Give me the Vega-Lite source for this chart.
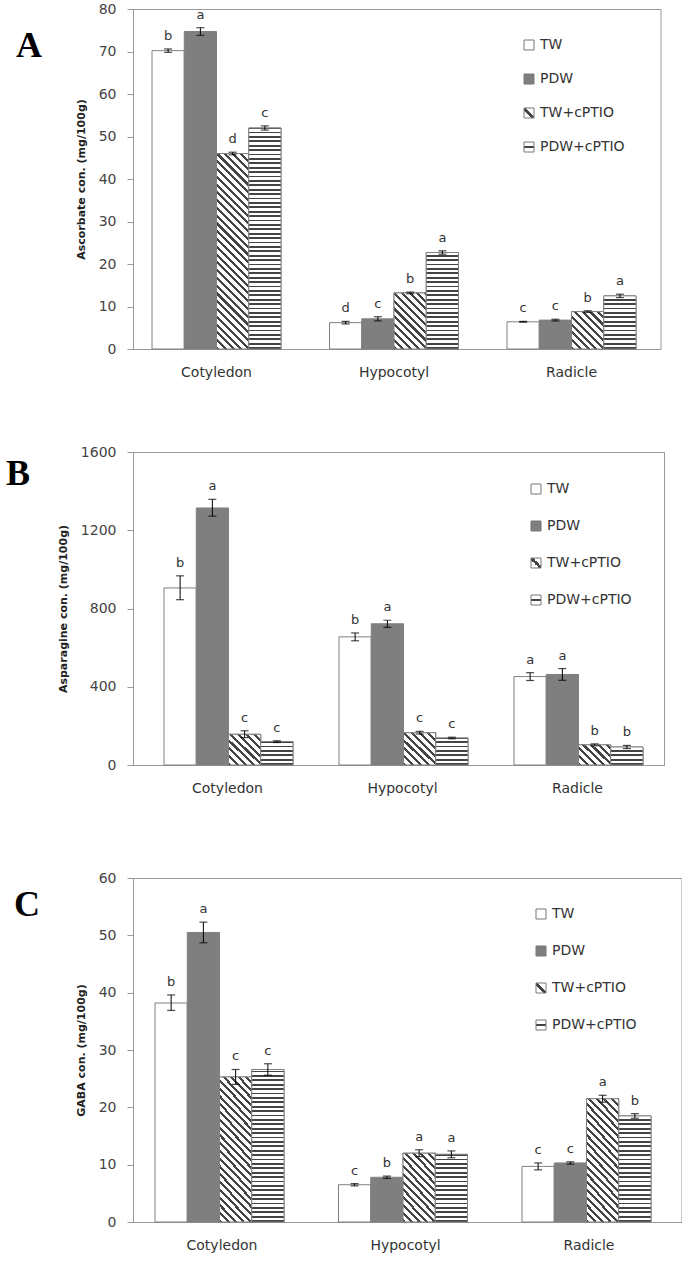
{
"$schema": "https://vega.github.io/schema/vega-lite/v6.json",
"padding": {"left": 5, "top": 1, "right": 0, "bottom": 0},
"spacing": 64,
"params": [
{"name": "gDiag", "value": {"gradient": "linear", "x1": 0, "y1": 1, "x2": 1, "y2": 0, "stops": [{"offset":0,"color":"#fff"},{"offset":0.4,"color":"#fff"},{"offset":0.4,"color":"#444"},{"offset":0.6,"color":"#444"},{"offset":0.6,"color":"#fff"},{"offset":1,"color":"#fff"}]}},
{"name": "gHorz", "value": {"gradient": "linear", "x1": 0, "y1": 0, "x2": 0.000001, "y2": 1, "stops": [{"offset":0,"color":"#fff"},{"offset":0.4,"color":"#fff"},{"offset":0.4,"color":"#444"},{"offset":0.6,"color":"#444"},{"offset":0.6,"color":"#fff"},{"offset":1,"color":"#fff"}]}},
{"name": "stripeStops", "value": [
{"offset":0,"color":"#444"},{"offset":0.0071,"color":"#444"},{"offset":0.0071,"color":"#fff"},{"offset":0.0179,"color":"#fff"},
{"offset":0.0179,"color":"#444"},{"offset":0.025,"color":"#444"},{"offset":0.025,"color":"#fff"},{"offset":0.0357,"color":"#fff"},
{"offset":0.0357,"color":"#444"},{"offset":0.0429,"color":"#444"},{"offset":0.0429,"color":"#fff"},{"offset":0.0536,"color":"#fff"},
{"offset":0.0536,"color":"#444"},{"offset":0.0607,"color":"#444"},{"offset":0.0607,"color":"#fff"},{"offset":0.0714,"color":"#fff"},
{"offset":0.0714,"color":"#444"},{"offset":0.0786,"color":"#444"},{"offset":0.0786,"color":"#fff"},{"offset":0.0893,"color":"#fff"},
{"offset":0.0893,"color":"#444"},{"offset":0.0964,"color":"#444"},{"offset":0.0964,"color":"#fff"},{"offset":0.1071,"color":"#fff"},
{"offset":0.1071,"color":"#444"},{"offset":0.1143,"color":"#444"},{"offset":0.1143,"color":"#fff"},{"offset":0.125,"color":"#fff"},
{"offset":0.125,"color":"#444"},{"offset":0.1321,"color":"#444"},{"offset":0.1321,"color":"#fff"},{"offset":0.1429,"color":"#fff"},
{"offset":0.1429,"color":"#444"},{"offset":0.15,"color":"#444"},{"offset":0.15,"color":"#fff"},{"offset":0.1607,"color":"#fff"},
{"offset":0.1607,"color":"#444"},{"offset":0.1679,"color":"#444"},{"offset":0.1679,"color":"#fff"},{"offset":0.1786,"color":"#fff"},
{"offset":0.1786,"color":"#444"},{"offset":0.1857,"color":"#444"},{"offset":0.1857,"color":"#fff"},{"offset":0.1964,"color":"#fff"},
{"offset":0.1964,"color":"#444"},{"offset":0.2036,"color":"#444"},{"offset":0.2036,"color":"#fff"},{"offset":0.2143,"color":"#fff"},
{"offset":0.2143,"color":"#444"},{"offset":0.2214,"color":"#444"},{"offset":0.2214,"color":"#fff"},{"offset":0.2321,"color":"#fff"},
{"offset":0.2321,"color":"#444"},{"offset":0.2393,"color":"#444"},{"offset":0.2393,"color":"#fff"},{"offset":0.25,"color":"#fff"},
{"offset":0.25,"color":"#444"},{"offset":0.2571,"color":"#444"},{"offset":0.2571,"color":"#fff"},{"offset":0.2679,"color":"#fff"},
{"offset":0.2679,"color":"#444"},{"offset":0.275,"color":"#444"},{"offset":0.275,"color":"#fff"},{"offset":0.2857,"color":"#fff"},
{"offset":0.2857,"color":"#444"},{"offset":0.2929,"color":"#444"},{"offset":0.2929,"color":"#fff"},{"offset":0.3036,"color":"#fff"},
{"offset":0.3036,"color":"#444"},{"offset":0.3107,"color":"#444"},{"offset":0.3107,"color":"#fff"},{"offset":0.3214,"color":"#fff"},
{"offset":0.3214,"color":"#444"},{"offset":0.3286,"color":"#444"},{"offset":0.3286,"color":"#fff"},{"offset":0.3393,"color":"#fff"},
{"offset":0.3393,"color":"#444"},{"offset":0.3464,"color":"#444"},{"offset":0.3464,"color":"#fff"},{"offset":0.3571,"color":"#fff"},
{"offset":0.3571,"color":"#444"},{"offset":0.3643,"color":"#444"},{"offset":0.3643,"color":"#fff"},{"offset":0.375,"color":"#fff"},
{"offset":0.375,"color":"#444"},{"offset":0.3821,"color":"#444"},{"offset":0.3821,"color":"#fff"},{"offset":0.3929,"color":"#fff"},
{"offset":0.3929,"color":"#444"},{"offset":0.4,"color":"#444"},{"offset":0.4,"color":"#fff"},{"offset":0.4107,"color":"#fff"},
{"offset":0.4107,"color":"#444"},{"offset":0.4179,"color":"#444"},{"offset":0.4179,"color":"#fff"},{"offset":0.4286,"color":"#fff"},
{"offset":0.4286,"color":"#444"},{"offset":0.4357,"color":"#444"},{"offset":0.4357,"color":"#fff"},{"offset":0.4464,"color":"#fff"},
{"offset":0.4464,"color":"#444"},{"offset":0.4536,"color":"#444"},{"offset":0.4536,"color":"#fff"},{"offset":0.4643,"color":"#fff"},
{"offset":0.4643,"color":"#444"},{"offset":0.4714,"color":"#444"},{"offset":0.4714,"color":"#fff"},{"offset":0.4821,"color":"#fff"},
{"offset":0.4821,"color":"#444"},{"offset":0.4893,"color":"#444"},{"offset":0.4893,"color":"#fff"},{"offset":0.5,"color":"#fff"},
{"offset":0.5,"color":"#444"},{"offset":0.5071,"color":"#444"},{"offset":0.5071,"color":"#fff"},{"offset":0.5179,"color":"#fff"},
{"offset":0.5179,"color":"#444"},{"offset":0.525,"color":"#444"},{"offset":0.525,"color":"#fff"},{"offset":0.5357,"color":"#fff"},
{"offset":0.5357,"color":"#444"},{"offset":0.5429,"color":"#444"},{"offset":0.5429,"color":"#fff"},{"offset":0.5536,"color":"#fff"},
{"offset":0.5536,"color":"#444"},{"offset":0.5607,"color":"#444"},{"offset":0.5607,"color":"#fff"},{"offset":0.5714,"color":"#fff"},
{"offset":0.5714,"color":"#444"},{"offset":0.5786,"color":"#444"},{"offset":0.5786,"color":"#fff"},{"offset":0.5893,"color":"#fff"},
{"offset":0.5893,"color":"#444"},{"offset":0.5964,"color":"#444"},{"offset":0.5964,"color":"#fff"},{"offset":0.6071,"color":"#fff"},
{"offset":0.6071,"color":"#444"},{"offset":0.6143,"color":"#444"},{"offset":0.6143,"color":"#fff"},{"offset":0.625,"color":"#fff"},
{"offset":0.625,"color":"#444"},{"offset":0.6321,"color":"#444"},{"offset":0.6321,"color":"#fff"},{"offset":0.6429,"color":"#fff"},
{"offset":0.6429,"color":"#444"},{"offset":0.65,"color":"#444"},{"offset":0.65,"color":"#fff"},{"offset":0.6607,"color":"#fff"},
{"offset":0.6607,"color":"#444"},{"offset":0.6679,"color":"#444"},{"offset":0.6679,"color":"#fff"},{"offset":0.6786,"color":"#fff"},
{"offset":0.6786,"color":"#444"},{"offset":0.6857,"color":"#444"},{"offset":0.6857,"color":"#fff"},{"offset":0.6964,"color":"#fff"},
{"offset":0.6964,"color":"#444"},{"offset":0.7036,"color":"#444"},{"offset":0.7036,"color":"#fff"},{"offset":0.7143,"color":"#fff"},
{"offset":0.7143,"color":"#444"},{"offset":0.7214,"color":"#444"},{"offset":0.7214,"color":"#fff"},{"offset":0.7321,"color":"#fff"},
{"offset":0.7321,"color":"#444"},{"offset":0.7393,"color":"#444"},{"offset":0.7393,"color":"#fff"},{"offset":0.75,"color":"#fff"},
{"offset":0.75,"color":"#444"},{"offset":0.7571,"color":"#444"},{"offset":0.7571,"color":"#fff"},{"offset":0.7679,"color":"#fff"},
{"offset":0.7679,"color":"#444"},{"offset":0.775,"color":"#444"},{"offset":0.775,"color":"#fff"},{"offset":0.7857,"color":"#fff"},
{"offset":0.7857,"color":"#444"},{"offset":0.7929,"color":"#444"},{"offset":0.7929,"color":"#fff"},{"offset":0.8036,"color":"#fff"},
{"offset":0.8036,"color":"#444"},{"offset":0.8107,"color":"#444"},{"offset":0.8107,"color":"#fff"},{"offset":0.8214,"color":"#fff"},
{"offset":0.8214,"color":"#444"},{"offset":0.8286,"color":"#444"},{"offset":0.8286,"color":"#fff"},{"offset":0.8393,"color":"#fff"},
{"offset":0.8393,"color":"#444"},{"offset":0.8464,"color":"#444"},{"offset":0.8464,"color":"#fff"},{"offset":0.8571,"color":"#fff"},
{"offset":0.8571,"color":"#444"},{"offset":0.8643,"color":"#444"},{"offset":0.8643,"color":"#fff"},{"offset":0.875,"color":"#fff"},
{"offset":0.875,"color":"#444"},{"offset":0.8821,"color":"#444"},{"offset":0.8821,"color":"#fff"},{"offset":0.8929,"color":"#fff"},
{"offset":0.8929,"color":"#444"},{"offset":0.9,"color":"#444"},{"offset":0.9,"color":"#fff"},{"offset":0.9107,"color":"#fff"},
{"offset":0.9107,"color":"#444"},{"offset":0.9179,"color":"#444"},{"offset":0.9179,"color":"#fff"},{"offset":0.9286,"color":"#fff"},
{"offset":0.9286,"color":"#444"},{"offset":0.9357,"color":"#444"},{"offset":0.9357,"color":"#fff"},{"offset":0.9464,"color":"#fff"},
{"offset":0.9464,"color":"#444"},{"offset":0.9536,"color":"#444"},{"offset":0.9536,"color":"#fff"},{"offset":0.9643,"color":"#fff"},
{"offset":0.9643,"color":"#444"},{"offset":0.9714,"color":"#444"},{"offset":0.9714,"color":"#fff"},{"offset":0.9821,"color":"#fff"},
{"offset":0.9821,"color":"#444"},{"offset":0.9893,"color":"#444"},{"offset":0.9893,"color":"#fff"},{"offset":1,"color":"#fff"}
]}],
"config": {
  "font": "DejaVu Sans",
  "view": {"stroke": "#999", "strokeWidth": 1},
  "axisX": {"domainColor": "#999", "ticks": false, "labelFontSize": 14, "labelColor": "#333", "labelPadding": 16, "labelAngle": 0},
  "axisY": {"domainColor": "#999", "tickColor": "#999", "tickSize": 6, "labelFontSize": 14, "labelColor": "#444", "labelPadding": 11, "grid": false, "titleFontSize": 11, "titleFontWeight": "bold", "titleColor": "#222", "titlePadding": 12, "format": "d"},
  "legend": {"orient": "none", "labelFontSize": 14, "labelColor": "#333", "symbolType": "square", "symbolSize": 100, "symbolStrokeColor": "#777", "symbolStrokeWidth": 1, "rowPadding": 20, "labelOffset": 4, "padding": 0}
},
"datasets": {"d": [
{"panel":"A","organ":"Cotyledon","trt":"TW","v":70.2,"lo":69.8,"hi":70.6,"sig":"b"},
{"panel":"A","organ":"Cotyledon","trt":"PDW","v":74.7,"lo":73.8,"hi":75.6,"sig":"a"},
{"panel":"A","organ":"Cotyledon","trt":"TW+cPTIO","v":46.0,"lo":45.7,"hi":46.3,"sig":"d"},
{"panel":"A","organ":"Cotyledon","trt":"PDW+cPTIO","v":52.0,"lo":51.5,"hi":52.5,"sig":"c"},
{"panel":"A","organ":"Hypocotyl","trt":"TW","v":6.2,"lo":5.9,"hi":6.5,"sig":"d"},
{"panel":"A","organ":"Hypocotyl","trt":"PDW","v":7.1,"lo":6.6,"hi":7.6,"sig":"c"},
{"panel":"A","organ":"Hypocotyl","trt":"TW+cPTIO","v":13.2,"lo":13.0,"hi":13.4,"sig":"b"},
{"panel":"A","organ":"Hypocotyl","trt":"PDW+cPTIO","v":22.7,"lo":22.3,"hi":23.1,"sig":"a"},
{"panel":"A","organ":"Radicle","trt":"TW","v":6.4,"lo":6.3,"hi":6.5,"sig":"c"},
{"panel":"A","organ":"Radicle","trt":"PDW","v":6.8,"lo":6.6,"hi":7.0,"sig":"c"},
{"panel":"A","organ":"Radicle","trt":"TW+cPTIO","v":8.8,"lo":8.6,"hi":9.0,"sig":"b"},
{"panel":"A","organ":"Radicle","trt":"PDW+cPTIO","v":12.5,"lo":12.1,"hi":12.9,"sig":"a"},
{"panel":"B","organ":"Cotyledon","trt":"TW","v":905,"lo":845,"hi":967,"sig":"b"},
{"panel":"B","organ":"Cotyledon","trt":"PDW","v":1314,"lo":1272,"hi":1358,"sig":"a"},
{"panel":"B","organ":"Cotyledon","trt":"TW+cPTIO","v":157,"lo":140,"hi":175,"sig":"c"},
{"panel":"B","organ":"Cotyledon","trt":"PDW+cPTIO","v":120,"lo":115,"hi":124,"sig":"c"},
{"panel":"B","organ":"Hypocotyl","trt":"TW","v":655,"lo":635,"hi":675,"sig":"b"},
{"panel":"B","organ":"Hypocotyl","trt":"PDW","v":722,"lo":704,"hi":740,"sig":"a"},
{"panel":"B","organ":"Hypocotyl","trt":"TW+cPTIO","v":165,"lo":158,"hi":172,"sig":"c"},
{"panel":"B","organ":"Hypocotyl","trt":"PDW+cPTIO","v":138,"lo":134,"hi":142,"sig":"c"},
{"panel":"B","organ":"Radicle","trt":"TW","v":452,"lo":432,"hi":472,"sig":"a"},
{"panel":"B","organ":"Radicle","trt":"PDW","v":463,"lo":433,"hi":493,"sig":"a"},
{"panel":"B","organ":"Radicle","trt":"TW+cPTIO","v":103,"lo":98,"hi":108,"sig":"b"},
{"panel":"B","organ":"Radicle","trt":"PDW+cPTIO","v":92,"lo":84,"hi":100,"sig":"b"},
{"panel":"C","organ":"Cotyledon","trt":"TW","v":38.2,"lo":36.9,"hi":39.6,"sig":"b"},
{"panel":"C","organ":"Cotyledon","trt":"PDW","v":50.5,"lo":48.7,"hi":52.3,"sig":"a"},
{"panel":"C","organ":"Cotyledon","trt":"TW+cPTIO","v":25.3,"lo":24.0,"hi":26.6,"sig":"c"},
{"panel":"C","organ":"Cotyledon","trt":"PDW+cPTIO","v":26.6,"lo":25.6,"hi":27.6,"sig":"c"},
{"panel":"C","organ":"Hypocotyl","trt":"TW","v":6.5,"lo":6.3,"hi":6.7,"sig":"c"},
{"panel":"C","organ":"Hypocotyl","trt":"PDW","v":7.8,"lo":7.6,"hi":8.0,"sig":"b"},
{"panel":"C","organ":"Hypocotyl","trt":"TW+cPTIO","v":12.0,"lo":11.4,"hi":12.6,"sig":"a"},
{"panel":"C","organ":"Hypocotyl","trt":"PDW+cPTIO","v":11.8,"lo":11.2,"hi":12.4,"sig":"a"},
{"panel":"C","organ":"Radicle","trt":"TW","v":9.7,"lo":9.1,"hi":10.3,"sig":"c"},
{"panel":"C","organ":"Radicle","trt":"PDW","v":10.3,"lo":10.1,"hi":10.5,"sig":"c"},
{"panel":"C","organ":"Radicle","trt":"TW+cPTIO","v":21.5,"lo":20.9,"hi":22.1,"sig":"a"},
{"panel":"C","organ":"Radicle","trt":"PDW+cPTIO","v":18.5,"lo":18.1,"hi":18.9,"sig":"b"}
]},
"vconcat": [
{
 "width": 527.5, "height": 340,
 "title": {"text": "A", "orient": "top", "anchor": "start", "frame": "group", "align": "left", "baseline": "top", "font": "Liberation Serif", "fontSize": 36, "fontWeight": "bold", "color": "#000", "offset": 0, "dx": -117, "dy": 63},
 "data": {"name": "d"},
 "transform": [{"filter": "datum.panel == 'A'"}],
 "encoding": {
   "x": {"field": "organ", "type": "nominal", "sort": ["Cotyledon","Hypocotyl","Radicle"], "scale": {"paddingInner": 0.2732, "paddingOuter": 0.1225, "align": 0.437}, "axis": {"title": null}},
   "xOffset": {"field": "trt", "type": "nominal", "scale": {"domain": ["TW","PDW","TW+cPTIO","PDW+cPTIO"], "padding": 0}}
 },
 "layer": [
  {"mark": {"type": "bar", "stroke": "#808080", "strokeWidth": 1},
   "encoding": {
     "y": {"field": "v", "type": "quantitative", "title": "Ascorbate con. (mg/100g)", "scale": {"domain": [0, 80], "nice": false}, "axis": {"values": [0,10,20,30,40,50,60,70,80]}},
     "fill": {"field": "trt", "type": "nominal", "legend": {"title": null, "legendX": 389, "legendY": 29, "rowPadding": 20},
       "scale": {"domain": ["TW","PDW","TW+cPTIO","PDW+cPTIO"], "range": ["#ffffff", "#7f7f7f", {"expr": "gDiag"}, {"expr": "gHorz"}]}}
   }},
  {"transform": [{"filter": "datum.trt == 'TW+cPTIO' || datum.trt == 'PDW+cPTIO'"}],
   "mark": {"type": "bar", "stroke": "#808080", "strokeWidth": 1,
     "fill": {"expr": "datum.trt == 'PDW+cPTIO' ? {gradient: 'linear', x1: 0, y1: 1, x2: 0.000001, y2: 1 - 246.4 / (datum.v * 4.25), stops: stripeStops} : {gradient: 'linear', x1: 0, y1: 1, x2: 32.25 * 435.58 / (1040 + pow(datum.v * 4.25, 2)), y2: 1 - datum.v * 4.25 * 435.58 / (1040 + pow(datum.v * 4.25, 2)), stops: stripeStops}"}},
   "encoding": {"y": {"field": "v", "type": "quantitative", "title": "Ascorbate con. (mg/100g)"}}},
  {"mark": {"type": "rule", "color": "#000", "strokeWidth": 1},
   "encoding": {"y": {"field": "lo", "type": "quantitative", "title": "Ascorbate con. (mg/100g)"}, "y2": {"field": "hi"}}},
  {"mark": {"type": "tick", "color": "#000", "thickness": 1.2, "size": 8},
   "encoding": {"y": {"field": "lo", "type": "quantitative", "title": "Ascorbate con. (mg/100g)"}}},
  {"mark": {"type": "tick", "color": "#000", "thickness": 1.2, "size": 8},
   "encoding": {"y": {"field": "hi", "type": "quantitative", "title": "Ascorbate con. (mg/100g)"}}},
  {"mark": {"type": "text", "dy": -9, "baseline": "alphabetic", "fontSize": 13, "color": "#333"},
   "encoding": {"y": {"field": "hi", "type": "quantitative", "title": "Ascorbate con. (mg/100g)"}, "text": {"field": "sig"}}}
 ]
},
{
 "width": 531, "height": 313,
 "title": {"text": "B", "orient": "top", "anchor": "start", "frame": "group", "align": "left", "baseline": "top", "font": "Liberation Serif", "fontSize": 36, "fontWeight": "bold", "color": "#000", "offset": 0, "dx": -127, "dy": 48},
 "data": {"name": "d"},
 "transform": [{"filter": "datum.panel == 'B'"}],
 "encoding": {
   "x": {"field": "organ", "type": "nominal", "sort": ["Cotyledon","Hypocotyl","Radicle"], "scale": {"paddingInner": 0.2743, "paddingOuter": 0.1543, "align": 0.574}, "axis": {"title": " ", "titleFontSize": 10, "titlePadding": 0}},
   "xOffset": {"field": "trt", "type": "nominal", "scale": {"domain": ["TW","PDW","TW+cPTIO","PDW+cPTIO"], "padding": 0}}
 },
 "layer": [
  {"mark": {"type": "bar", "stroke": "#808080", "strokeWidth": 1},
   "encoding": {
     "y": {"field": "v", "type": "quantitative", "title": "Asparagine con. (mg/100g)", "scale": {"domain": [0, 1600], "nice": false}, "axis": {"values": [0,200,400,600,800,1000,1200,1400,1600]}},
     "fill": {"field": "trt", "type": "nominal", "legend": {"title": null, "legendX": 396, "legendY": 30, "rowPadding": 23},
       "scale": {"domain": ["TW","PDW","TW+cPTIO","PDW+cPTIO"], "range": ["#ffffff", "#7f7f7f", {"expr": "gDiag"}, {"expr": "gHorz"}]}}
   }},
  {"transform": [{"filter": "datum.trt == 'TW+cPTIO' || datum.trt == 'PDW+cPTIO'"}],
   "mark": {"type": "bar", "stroke": "#808080", "strokeWidth": 1,
     "fill": {"expr": "datum.trt == 'PDW+cPTIO' ? {gradient: 'linear', x1: 0, y1: 1, x2: 0.000001, y2: 1 - 246.4 / (datum.v * 0.195625), stops: stripeStops} : {gradient: 'linear', x1: 0, y1: 1, x2: 31.75 * 435.58 / (1008 + pow(datum.v * 0.195625, 2)), y2: 1 - datum.v * 0.195625 * 435.58 / (1008 + pow(datum.v * 0.195625, 2)), stops: stripeStops}"}},
   "encoding": {"y": {"field": "v", "type": "quantitative", "title": "Asparagine con. (mg/100g)"}}},
  {"mark": {"type": "rule", "color": "#000", "strokeWidth": 1},
   "encoding": {"y": {"field": "lo", "type": "quantitative", "title": "Asparagine con. (mg/100g)"}, "y2": {"field": "hi"}}},
  {"mark": {"type": "tick", "color": "#000", "thickness": 1.2, "size": 8},
   "encoding": {"y": {"field": "lo", "type": "quantitative", "title": "Asparagine con. (mg/100g)"}}},
  {"mark": {"type": "tick", "color": "#000", "thickness": 1.2, "size": 8},
   "encoding": {"y": {"field": "hi", "type": "quantitative", "title": "Asparagine con. (mg/100g)"}}},
  {"mark": {"type": "text", "dy": -9, "baseline": "alphabetic", "fontSize": 13, "color": "#333"},
   "encoding": {"y": {"field": "hi", "type": "quantitative", "title": "Asparagine con. (mg/100g)"}, "text": {"field": "sig"}}}
 ]
},
{
 "width": 548.5, "height": 344,
 "title": {"text": "C", "orient": "top", "anchor": "start", "frame": "group", "align": "left", "baseline": "top", "font": "Liberation Serif", "fontSize": 36, "fontWeight": "bold", "color": "#000", "offset": 0, "dx": -119, "dy": 53},
 "data": {"name": "d"},
 "transform": [{"filter": "datum.panel == 'C'"}],
 "encoding": {
   "x": {"field": "organ", "type": "nominal", "sort": ["Cotyledon","Hypocotyl","Radicle"], "scale": {"paddingInner": 0.2698, "paddingOuter": 0.1295, "align": 0.463}, "axis": {"title": null}},
   "xOffset": {"field": "trt", "type": "nominal", "scale": {"domain": ["TW","PDW","TW+cPTIO","PDW+cPTIO"], "padding": 0}}
 },
 "layer": [
  {"mark": {"type": "bar", "stroke": "#808080", "strokeWidth": 1},
   "encoding": {
     "y": {"field": "v", "type": "quantitative", "title": "GABA con. (mg/100g)", "scale": {"domain": [0, 60], "nice": false}, "axis": {"values": [0,10,20,30,40,50,60]}},
     "fill": {"field": "trt", "type": "nominal", "legend": {"title": null, "legendX": 401, "legendY": 29, "rowPadding": 23},
       "scale": {"domain": ["TW","PDW","TW+cPTIO","PDW+cPTIO"], "range": ["#ffffff", "#7f7f7f", {"expr": "gDiag"}, {"expr": "gHorz"}]}}
   }},
  {"transform": [{"filter": "datum.trt == 'TW+cPTIO' || datum.trt == 'PDW+cPTIO'"}],
   "mark": {"type": "bar", "stroke": "#808080", "strokeWidth": 1,
     "fill": {"expr": "datum.trt == 'PDW+cPTIO' ? {gradient: 'linear', x1: 0, y1: 1, x2: 0.000001, y2: 1 - 246.4 / (datum.v * 5.7333), stops: stripeStops} : {gradient: 'linear', x1: 0, y1: 1, x2: 33.5 * 435.58 / (1122 + pow(datum.v * 5.7333, 2)), y2: 1 - datum.v * 5.7333 * 435.58 / (1122 + pow(datum.v * 5.7333, 2)), stops: stripeStops}"}},
   "encoding": {"y": {"field": "v", "type": "quantitative", "title": "GABA con. (mg/100g)"}}},
  {"mark": {"type": "rule", "color": "#000", "strokeWidth": 1},
   "encoding": {"y": {"field": "lo", "type": "quantitative", "title": "GABA con. (mg/100g)"}, "y2": {"field": "hi"}}},
  {"mark": {"type": "tick", "color": "#000", "thickness": 1.2, "size": 8},
   "encoding": {"y": {"field": "lo", "type": "quantitative", "title": "GABA con. (mg/100g)"}}},
  {"mark": {"type": "tick", "color": "#000", "thickness": 1.2, "size": 8},
   "encoding": {"y": {"field": "hi", "type": "quantitative", "title": "GABA con. (mg/100g)"}}},
  {"mark": {"type": "text", "dy": -9, "baseline": "alphabetic", "fontSize": 13, "color": "#333"},
   "encoding": {"y": {"field": "hi", "type": "quantitative", "title": "GABA con. (mg/100g)"}, "text": {"field": "sig"}}}
 ]
}
],
"resolve": {"scale": {"fill": "independent"}, "legend": {"fill": "independent"}}
}
